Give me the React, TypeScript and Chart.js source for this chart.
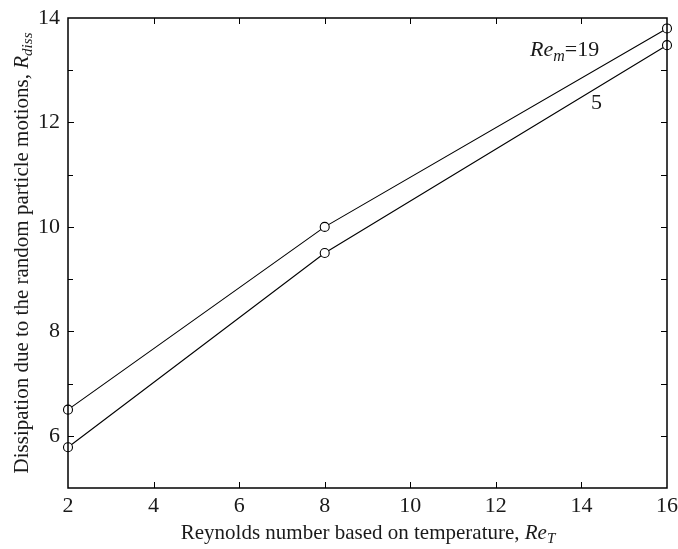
import React, { useEffect, useRef } from "react";
import { Chart, registerables } from "chart.js";

Chart.register(...registerables);

const reT = [2, 8, 16];
const rdissRe19 = [6.5, 10.0, 13.8];
const rdissRe5 = [5.78, 9.5, 13.48];
const xTicks = [2, 4, 6, 8, 10, 12, 14, 16];
const yTicks = [6, 8, 10, 12, 14];
const yMinorTicks = [7, 9, 11, 13];

const FONT = '"Liberation Serif", "Times New Roman", serif';

type Seg = { t: string; italic?: boolean; sub?: boolean };

function drawSegs(ctx: CanvasRenderingContext2D, segs: Seg[], x: number, y: number, size: number, align: "left" | "center") {
  const fontFor = (s: Seg) => `${s.italic ? "italic " : ""}${s.sub ? Math.round(size * 0.72) : size}px ${FONT}`;
  let total = 0;
  for (const s of segs) {
    ctx.font = fontFor(s);
    total += ctx.measureText(s.t).width;
  }
  let cx = align === "center" ? x - total / 2 : x;
  ctx.textAlign = "left";
  ctx.textBaseline = "middle";
  for (const s of segs) {
    ctx.font = fontFor(s);
    ctx.fillText(s.t, cx, s.sub ? y + size * 0.3 : y);
    cx += ctx.measureText(s.t).width;
  }
}

const framePlugin = {
  id: "frame",
  afterDraw(chart: any) {
    const { ctx, chartArea: a, scales } = chart;
    const xs = scales.x;
    const ys = scales.y;
    ctx.save();
    ctx.strokeStyle = "#000";
    ctx.lineWidth = 1.5;
    ctx.strokeRect(a.left, a.top, a.right - a.left, a.bottom - a.top);
    ctx.lineWidth = 1;
    ctx.beginPath();
    for (const v of xTicks.slice(1, -1)) {
      const px = Math.round(xs.getPixelForValue(v)) + 0.5;
      ctx.moveTo(px, a.bottom);
      ctx.lineTo(px, a.bottom - 6);
      ctx.moveTo(px, a.top);
      ctx.lineTo(px, a.top + 6);
    }
    for (const v of yTicks.slice(0, -1)) {
      const py = Math.round(ys.getPixelForValue(v)) + 0.5;
      ctx.moveTo(a.left, py);
      ctx.lineTo(a.left + 6, py);
      ctx.moveTo(a.right, py);
      ctx.lineTo(a.right - 6, py);
    }
    for (const v of yMinorTicks) {
      const py = Math.round(ys.getPixelForValue(v)) + 0.5;
      ctx.moveTo(a.left, py);
      ctx.lineTo(a.left + 5, py);
      ctx.moveTo(a.right, py);
      ctx.lineTo(a.right - 6, py);
    }
    ctx.stroke();

    ctx.fillStyle = "#1a1a1a";
    // x title
    drawSegs(ctx, [
      { t: "Reynolds number based on temperature, " },
      { t: "Re", italic: true },
      { t: "T", italic: true, sub: true },
    ], 368, 533, 21, "center");

    // y title
    ctx.save();
    ctx.translate(22, 253);
    ctx.rotate(-Math.PI / 2);
    drawSegs(ctx, [
      { t: "Dissipation due to the random particle motions, " },
      { t: "R", italic: true },
      { t: "diss", italic: true, sub: true },
    ], 0, 0, 21, "center");
    ctx.restore();

    // series annotations
    drawSegs(ctx, [
      { t: "Re", italic: true },
      { t: "m", italic: true, sub: true },
      { t: "=19" },
    ], 530, 50, 22, "left");
    drawSegs(ctx, [{ t: "5" }], xs.getPixelForValue(14.35), 103, 22, "center");
    ctx.restore();
  },
};

export default function App() {
  const ref = useRef<HTMLCanvasElement>(null);
  useEffect(() => {
    document.body.style.margin = "0";
    const c = ref.current!;
    const chart = new Chart(c, {
      type: "line",
      data: {
        datasets: [
          {
            label: "Re_m = 19",
            data: reT.map((x, i) => ({ x, y: rdissRe19[i] })),
            borderColor: "#000",
            borderWidth: 1.1,
            pointRadius: 4.5,
            pointBorderWidth: 1.1,
            pointBorderColor: "#000",
            pointBackgroundColor: "#fff",
            tension: 0,
          },
          {
            label: "Re_m = 5",
            data: reT.map((x, i) => ({ x, y: rdissRe5[i] })),
            borderColor: "#000",
            borderWidth: 1.1,
            pointRadius: 4.5,
            pointBorderWidth: 1.1,
            pointBorderColor: "#000",
            pointBackgroundColor: "#fff",
            tension: 0,
          },
        ],
      },
      options: {
        responsive: false,
        animation: false,
        clip: false,
        layout: { padding: { top: 18, right: 11, left: 0, bottom: 0 } },
        plugins: { legend: { display: false }, tooltip: { enabled: false } },
        scales: {
          x: {
            type: "linear",
            min: 2,
            max: 16,
            afterBuildTicks: (s: any) => { s.ticks = xTicks.map((v) => ({ value: v })); },
            afterFit: (s: any) => { s.height = 61; s.paddingLeft = 0; s.paddingRight = 0; },
            grid: { display: false, drawTicks: false },
            border: { display: false },
            ticks: { color: "#1a1a1a", padding: 5, font: { family: FONT, size: 22 }, maxRotation: 0 },
          },
          y: {
            type: "linear",
            min: 5,
            max: 14,
            afterBuildTicks: (s: any) => { s.ticks = yTicks.map((v) => ({ value: v })); },
            afterFit: (s: any) => { s.width = 68; s.paddingTop = 0; s.paddingBottom = 0; },
            grid: { display: false, drawTicks: false },
            border: { display: false },
            ticks: { color: "#1a1a1a", padding: 8, font: { family: FONT, size: 22 } },
          },
        },
      } as any,
      plugins: [framePlugin],
    });
    return () => chart.destroy();
  }, []);
  return (
    <div style={{ position: "absolute", left: 0, top: 0, width: 678, height: 549, background: "#fff" }}>
      <canvas ref={ref} width={678} height={549} />
    </div>
  );
}
